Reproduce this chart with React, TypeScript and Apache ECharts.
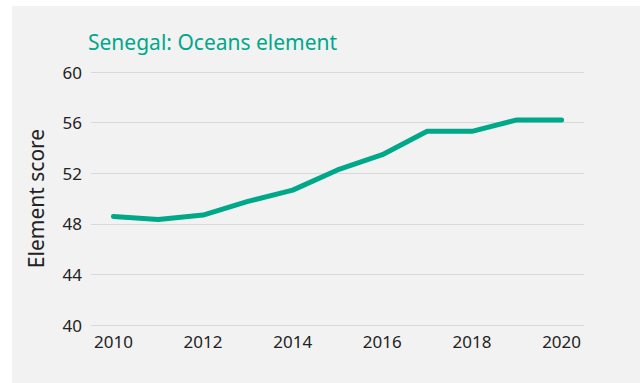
import React, { useEffect, useRef } from "react";
import * as echarts from "echarts";

const years = ["2010", "2011", "2012", "2013", "2014", "2015", "2016", "2017", "2018", "2019", "2020"];
const scores = [48.58, 48.34, 48.69, 49.77, 50.66, 52.26, 53.46, 55.31, 55.31, 56.21, 56.21];
const yTicks = { min: 40, max: 60, interval: 4 };
const titleText = "Senegal: Oceans element";
const yAxisName = "Element score";

export default function App() {
  const ref = useRef<HTMLDivElement>(null);
  useEffect(() => {
    if (!ref.current) return;
    const chart = echarts.init(ref.current, null, { renderer: "svg" });
    const font = "'Noto Sans', 'Open Sans', sans-serif";
    chart.setOption({
      animation: false,
      backgroundColor: "#ffffff",
      graphic: [
        { type: "rect", left: 12, top: 6, shape: { width: 628, height: 377 }, style: { fill: "#f2f2f2" }, z: -10 },
      ],
      title: {
        text: titleText,
        left: 83,
        top: 26,
        textStyle: { color: "#00a88a", fontFamily: font, fontSize: 21, fontWeight: "normal" },
      },
      grid: { left: 91, right: 56, top: 72, bottom: 58, containLabel: false },
      xAxis: {
        type: "category",
        data: years,
        boundaryGap: true,
        axisLine: { show: false },
        axisTick: { show: false },
        axisLabel: { interval: 1, color: "#222", fontSize: 17, fontFamily: font, margin: 8 },
      },
      yAxis: {
        type: "value",
        min: yTicks.min,
        max: yTicks.max,
        interval: yTicks.interval,
        name: yAxisName,
        nameLocation: "middle",
        nameGap: 45,
        nameTextStyle: { color: "#222", fontSize: 21, fontFamily: font },
        axisLine: { show: false },
        axisTick: { show: false },
        axisLabel: { color: "#222", fontSize: 17, fontFamily: font, margin: 9 },
        splitLine: { lineStyle: { color: "#d9d9d9", width: 1 } },
      },
      series: [
        {
          type: "line",
          data: scores,
          symbol: "none",
          lineStyle: { color: "#00a88a", width: 5, cap: "round", join: "round" },
        },
      ],
    });
    return () => chart.dispose();
  }, []);
  return (
    <div style={{ position: "absolute", left: 0, top: 0, width: 640, height: 383 }}>
      <div ref={ref} style={{ width: 640, height: 383 }} />
    </div>
  );
}
